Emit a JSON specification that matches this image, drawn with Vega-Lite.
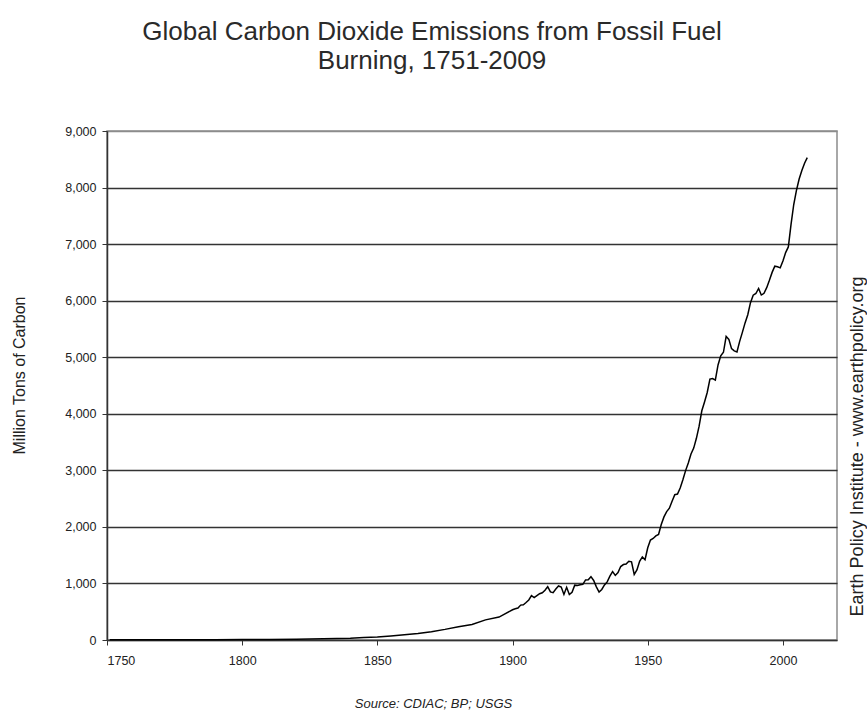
{
  "$schema": "https://vega.github.io/schema/vega-lite/v6.json",
  "width": 730,
  "height": 509,
  "autosize": "none",
  "padding": {"left": 107, "top": 131, "right": 30, "bottom": 72},
  "background": "white",
  "config": {"font": "Liberation Sans", "view": {"stroke": "#8c8c8c", "strokeWidth": 1.5}},
  "title": {
    "text": ["Global Carbon Dioxide Emissions from Fossil Fuel", "Burning, 1751-2009"],
    "fontSize": 26, "fontWeight": "normal", "color": "#2a2a2a",
    "anchor": "middle", "frame": "group", "dx": -40, "offset": 51, "lineHeight": 29
  },
  "data": {"values": [
    {"year": 1751, "emissions": 3}, {"year": 1760, "emissions": 3}, {"year": 1770, "emissions": 3},
    {"year": 1780, "emissions": 4}, {"year": 1790, "emissions": 6}, {"year": 1800, "emissions": 8},
    {"year": 1810, "emissions": 10}, {"year": 1820, "emissions": 14}, {"year": 1830, "emissions": 24},
    {"year": 1835, "emissions": 28}, {"year": 1840, "emissions": 33}, {"year": 1845, "emissions": 45},
    {"year": 1850, "emissions": 54}, {"year": 1855, "emissions": 70}, {"year": 1860, "emissions": 91},
    {"year": 1865, "emissions": 115}, {"year": 1870, "emissions": 147}, {"year": 1875, "emissions": 188},
    {"year": 1880, "emissions": 236}, {"year": 1885, "emissions": 273}, {"year": 1890, "emissions": 356},
    {"year": 1895, "emissions": 405},
    {"year": 1900, "emissions": 534}, {"year": 1901, "emissions": 552}, {"year": 1902, "emissions": 566},
    {"year": 1903, "emissions": 617}, {"year": 1904, "emissions": 624}, {"year": 1905, "emissions": 663},
    {"year": 1906, "emissions": 707}, {"year": 1907, "emissions": 784}, {"year": 1908, "emissions": 750},
    {"year": 1909, "emissions": 785}, {"year": 1910, "emissions": 819}, {"year": 1911, "emissions": 836},
    {"year": 1912, "emissions": 879}, {"year": 1913, "emissions": 943}, {"year": 1914, "emissions": 850},
    {"year": 1915, "emissions": 838}, {"year": 1916, "emissions": 901}, {"year": 1917, "emissions": 955},
    {"year": 1918, "emissions": 936}, {"year": 1919, "emissions": 806}, {"year": 1920, "emissions": 932},
    {"year": 1921, "emissions": 803}, {"year": 1922, "emissions": 845}, {"year": 1923, "emissions": 970},
    {"year": 1924, "emissions": 963}, {"year": 1925, "emissions": 975}, {"year": 1926, "emissions": 983},
    {"year": 1927, "emissions": 1062}, {"year": 1928, "emissions": 1065}, {"year": 1929, "emissions": 1120},
    {"year": 1930, "emissions": 1053}, {"year": 1931, "emissions": 940}, {"year": 1932, "emissions": 847},
    {"year": 1933, "emissions": 893}, {"year": 1934, "emissions": 973}, {"year": 1935, "emissions": 1027},
    {"year": 1936, "emissions": 1130}, {"year": 1937, "emissions": 1209}, {"year": 1938, "emissions": 1142},
    {"year": 1939, "emissions": 1192}, {"year": 1940, "emissions": 1299}, {"year": 1941, "emissions": 1334},
    {"year": 1942, "emissions": 1342}, {"year": 1943, "emissions": 1391}, {"year": 1944, "emissions": 1383},
    {"year": 1945, "emissions": 1160}, {"year": 1946, "emissions": 1238}, {"year": 1947, "emissions": 1392},
    {"year": 1948, "emissions": 1469}, {"year": 1949, "emissions": 1419}, {"year": 1950, "emissions": 1630},
    {"year": 1951, "emissions": 1767}, {"year": 1952, "emissions": 1795}, {"year": 1953, "emissions": 1841},
    {"year": 1954, "emissions": 1865}, {"year": 1955, "emissions": 2042}, {"year": 1956, "emissions": 2177},
    {"year": 1957, "emissions": 2270}, {"year": 1958, "emissions": 2330}, {"year": 1959, "emissions": 2454},
    {"year": 1960, "emissions": 2569}, {"year": 1961, "emissions": 2580}, {"year": 1962, "emissions": 2686},
    {"year": 1963, "emissions": 2833}, {"year": 1964, "emissions": 2995}, {"year": 1965, "emissions": 3130},
    {"year": 1966, "emissions": 3288}, {"year": 1967, "emissions": 3393}, {"year": 1968, "emissions": 3566},
    {"year": 1969, "emissions": 3780}, {"year": 1970, "emissions": 4053}, {"year": 1971, "emissions": 4208},
    {"year": 1972, "emissions": 4376}, {"year": 1973, "emissions": 4614}, {"year": 1974, "emissions": 4623},
    {"year": 1975, "emissions": 4596}, {"year": 1976, "emissions": 4864}, {"year": 1977, "emissions": 5026},
    {"year": 1978, "emissions": 5087}, {"year": 1979, "emissions": 5369}, {"year": 1980, "emissions": 5315},
    {"year": 1981, "emissions": 5152}, {"year": 1982, "emissions": 5113}, {"year": 1983, "emissions": 5094},
    {"year": 1984, "emissions": 5280}, {"year": 1985, "emissions": 5439}, {"year": 1986, "emissions": 5607},
    {"year": 1987, "emissions": 5752}, {"year": 1988, "emissions": 5965}, {"year": 1989, "emissions": 6097},
    {"year": 1990, "emissions": 6127}, {"year": 1991, "emissions": 6217}, {"year": 1992, "emissions": 6100},
    {"year": 1993, "emissions": 6130}, {"year": 1994, "emissions": 6230}, {"year": 1995, "emissions": 6360},
    {"year": 1996, "emissions": 6500}, {"year": 1997, "emissions": 6610}, {"year": 1998, "emissions": 6600},
    {"year": 1999, "emissions": 6580}, {"year": 2000, "emissions": 6700}, {"year": 2001, "emissions": 6850},
    {"year": 2002, "emissions": 6950}, {"year": 2003, "emissions": 7350}, {"year": 2004, "emissions": 7700},
    {"year": 2005, "emissions": 7950}, {"year": 2006, "emissions": 8150}, {"year": 2007, "emissions": 8300},
    {"year": 2008, "emissions": 8430}, {"year": 2009, "emissions": 8530}
  ]},
  "layer": [
    {
      "mark": {"type": "line", "color": "black", "strokeWidth": 1.5},
      "encoding": {
        "x": {
          "field": "year", "type": "quantitative",
          "scale": {"domain": [1750, 2020], "nice": false, "zero": false},
          "axis": {
            "values": [1750, 1800, 1850, 1900, 1950, 2000], "format": "d",
            "grid": false, "tickSize": 5, "tickColor": "#333", "domainColor": "#333", "domainWidth": 1.5,
            "labelFontSize": 12.5, "labelColor": "#222", "labelPadding": 9,
            "title": "Source: CDIAC; BP; USGS", "titleFontStyle": "italic", "titleFontWeight": "normal",
            "titleFontSize": 13, "titleColor": "#222", "titleX": 326, "titleY": 57, "titleBaseline": "top"
          }
        },
        "y": {
          "field": "emissions", "type": "quantitative",
          "scale": {"domain": [0, 9000], "nice": false},
          "axis": {
            "values": [0, 1000, 2000, 3000, 4000, 5000, 6000, 7000, 8000, 9000], "format": ",d",
            "grid": true,
            "gridColor": {"condition": {"test": "datum.value === 9000 || datum.value === 0", "value": "#8c8c8c"}, "value": "#333333"},
            "gridWidth": 1.5, "gridOpacity": 1,
            "tickSize": 5, "tickColor": "#333", "domainColor": "#333", "domainWidth": 1.5,
            "labelFontSize": 12.5, "labelColor": "#222", "labelPadding": 6,
            "title": "Million Tons of Carbon", "titleFontSize": 16, "titleFontWeight": "normal",
            "titleColor": "#222", "titlePadding": 37, "titleY": 244
          }
        }
      }
    },
    {
      "mark": {"type": "line", "opacity": 0},
      "encoding": {
        "x": {"field": "year", "type": "quantitative"},
        "y": {
          "field": "emissions", "type": "quantitative",
          "scale": {"domain": [0, 9000], "nice": false},
          "axis": {
            "orient": "right", "labels": false, "ticks": false, "domain": false, "grid": false,
            "title": "Earth Policy Institute - www.earthpolicy.org", "titleAngle": 270,
            "titleFontSize": 18, "titleFontWeight": "normal", "titleColor": "#222",
            "titleY": 315, "titlePadding": 29
          }
        }
      }
    }
  ],
  "resolve": {"scale": {"y": "independent"}, "axis": {"y": "independent"}}
}
